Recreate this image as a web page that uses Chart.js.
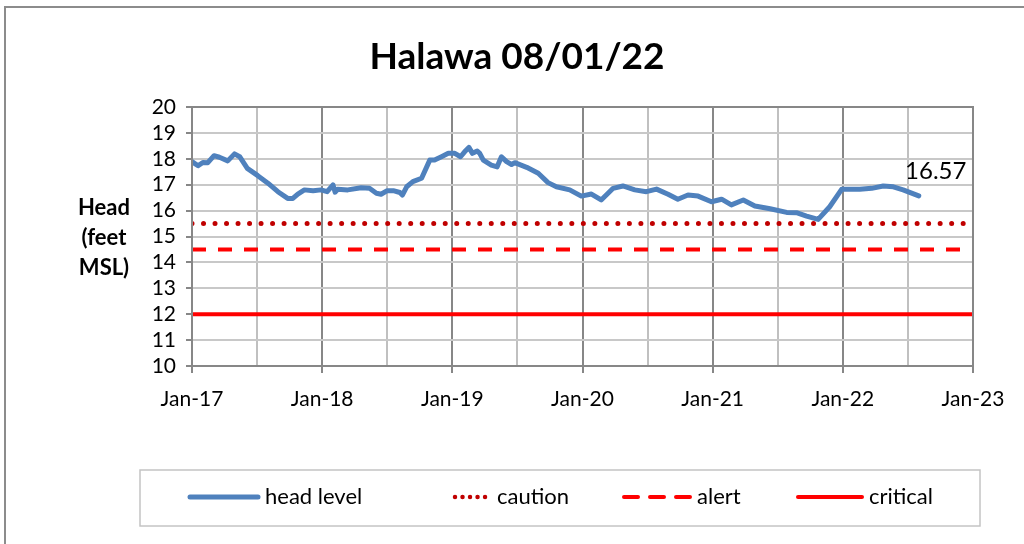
<!DOCTYPE html>
<html>
<head>
<meta charset="utf-8" />
<title>Halawa 08/01/22</title>
<style>
    body { margin: 0; background: #fff; }
    #wrap { position: relative; width: 1024px; height: 544px; }
</style>
<script src="https://cdn.jsdelivr.net/npm/chart.js"></script>
</head>
<body>
<div id="wrap"><canvas id="chart" width="1024" height="544"></canvas></div>
<script>
    // head level readings (date, feet MSL)
    const dates = [
        '2017-01-01', '2017-01-18', '2017-02-01', '2017-02-15', '2017-03-02', '2017-03-17', '2017-04-10',
        '2017-04-29', '2017-05-13', '2017-06-04', '2017-07-03', '2017-08-01', '2017-08-29', '2017-09-26',
        '2017-10-10', '2017-10-24', '2017-11-12', '2017-12-06', '2017-12-28', '2018-01-15', '2018-02-01',
        '2018-02-07', '2018-02-14', '2018-03-12', '2018-04-19', '2018-05-12', '2018-06-01', '2018-06-14',
        '2018-07-01', '2018-07-18', '2018-08-06', '2018-08-13', '2018-08-25', '2018-09-12', '2018-10-06',
        '2018-10-29', '2018-11-12', '2018-12-01', '2018-12-20', '2019-01-08', '2019-01-24', '2019-02-05',
        '2019-02-17', '2019-02-27', '2019-03-10', '2019-03-17', '2019-03-27', '2019-04-19', '2019-05-05',
        '2019-05-17', '2019-06-01', '2019-06-15', '2019-06-24', '2019-07-27', '2019-08-29', '2019-09-26',
        '2019-10-19', '2019-11-26', '2019-12-28', '2020-01-26', '2020-02-23', '2020-03-26', '2020-04-23',
        '2020-05-26', '2020-06-28', '2020-07-26', '2020-08-28', '2020-09-25', '2020-10-23', '2020-11-21',
        '2020-12-28', '2021-01-26', '2021-02-23', '2021-03-26', '2021-04-28', '2021-06-10', '2021-07-26',
        '2021-08-23', '2021-09-21', '2021-10-23', '2021-11-25', '2021-12-28', '2022-02-18', '2022-03-21',
        '2022-04-23', '2022-05-21', '2022-06-18', '2022-08-01'
    ];
    const headLevel = [
        17.89, 17.73, 17.86, 17.85, 18.12, 18.06, 17.92,
        18.19, 18.08, 17.63, 17.35, 17.06, 16.73, 16.47,
        16.47, 16.64, 16.80, 16.77, 16.80, 16.73, 16.99,
        16.71, 16.82, 16.80, 16.88, 16.86, 16.67, 16.63,
        16.77, 16.77, 16.70, 16.60, 16.92, 17.12, 17.25,
        17.95, 17.95, 18.08, 18.21, 18.21, 18.08, 18.27,
        18.44, 18.21, 18.30, 18.21, 17.95, 17.76, 17.69,
        18.08, 17.89, 17.78, 17.85, 17.67, 17.44, 17.08,
        16.92, 16.80, 16.56, 16.64, 16.41, 16.86, 16.95,
        16.80, 16.73, 16.83, 16.63, 16.44, 16.60, 16.56,
        16.34, 16.44, 16.22, 16.41, 16.18, 16.07, 15.93,
        15.92, 15.79, 15.66, 16.15, 16.82, 16.82, 16.86,
        16.95, 16.92, 16.80, 16.57
    ];

    // threshold levels
    const cautionLevel = 15.5;
    const alertLevel = 14.5;
    const criticalLevel = 12;

    const xStart = 2017, xEnd = 2023;
    const yMin = 10, yMax = 20;
    const lastLabel = '16.57';

    const legendItems = [
        { text: 'head level', color: '#4F81BD', width: 5, dash: [], x1: 190, x2: 258 },
        { text: 'caution', color: '#C00000', width: 4.5, dash: [0.01, 7.5], x1: 455, x2: 490 },
        { text: 'alert', color: '#FF0000', width: 4, dash: [14, 12], x1: 624, x2: 690 },
        { text: 'critical', color: '#FF0000', width: 4, dash: [], x1: 798, x2: 862 }
    ];

    function toYear(s) {
        const [y, m, d] = s.split('-').map(Number);
        return y + (m - 1) / 12 + (d - 1) / 365;
    }

    const headPts = dates.map((d, i) => ({ x: toYear(d), y: headLevel[i] }));
    const flat = v => [{ x: xStart, y: v }, { x: xEnd, y: v }];

    const FONT = 'Lato, "Open Sans", sans-serif';

    const extras = {
        id: 'extras',
        afterDraw(chart) {
            const ctx = chart.ctx;
            const a = chart.chartArea;
            ctx.save();
            // outer frame
            ctx.strokeStyle = '#8c8c8c';
            ctx.lineWidth = 2;
            ctx.beginPath();
            ctx.moveTo(5, 544); ctx.lineTo(5, 7); ctx.lineTo(1024, 7);
            ctx.stroke();
            // plot frame
            ctx.strokeStyle = '#878787';
            ctx.lineWidth = 2;
            ctx.strokeRect(a.left, a.top, a.right - a.left, a.bottom - a.top);

            // title
            ctx.fillStyle = '#000';
            ctx.textAlign = 'center';
            ctx.textBaseline = 'middle';
            ctx.font = 'bold 37px ' + FONT;
            ctx.fillText('Halawa 08/01/22', 517, 57);

            // y axis title
            ctx.font = 'bold 22px ' + FONT;
            ctx.fillText('Head', 104, 208);
            ctx.fillText('(feet', 104, 238);
            ctx.fillText('MSL)', 104, 268);

            // last value label
            const xs = chart.scales.x, ys = chart.scales.y;
            const last = headPts[headPts.length - 1];
            ctx.font = '24px ' + FONT;
            ctx.fillText(lastLabel, xs.getPixelForValue(last.x) + 17, ys.getPixelForValue(last.y) - 25);

            // legend
            ctx.strokeStyle = '#c4c4c4';
            ctx.lineWidth = 1.5;
            ctx.strokeRect(140, 470, 840, 56);
            ctx.textAlign = 'left';
            ctx.font = '22px ' + FONT;
            legendItems.forEach(it => {
                ctx.beginPath();
                ctx.strokeStyle = it.color;
                ctx.lineWidth = it.width;
                ctx.lineCap = 'round';
                ctx.setLineDash(it.dash);
                ctx.moveTo(it.x1, 497);
                ctx.lineTo(it.x2, 497);
                ctx.stroke();
                ctx.setLineDash([]);
                ctx.fillStyle = '#000';
                ctx.fillText(it.text, it.x2 + 7, 497);
            });
            ctx.restore();
        }
    };

    new Chart(document.getElementById('chart'), {
        type: 'line',
        data: {
            datasets: [
                { label: 'critical', data: flat(criticalLevel), borderColor: '#FF0000', borderWidth: 4 },
                { label: 'alert', data: flat(alertLevel), borderColor: '#FF0000', borderWidth: 4, borderDash: [14, 12] },
                { label: 'caution', data: flat(cautionLevel), borderColor: '#C00000', borderWidth: 5, borderDash: [0.01, 11.5], borderCapStyle: 'round' },
                { label: 'head level', data: headPts, borderColor: '#4F81BD', borderWidth: 5, borderJoinStyle: 'round', borderCapStyle: 'round' }
            ]
        },
        options: {
            responsive: false,
            animation: false,
            events: [],
            elements: { point: { radius: 0 }, line: { tension: 0 } },
            layout: { padding: { left: 0, top: 107, right: 51, bottom: 0 } },
            plugins: { legend: { display: false }, title: { display: false }, tooltip: { enabled: false } },
            scales: {
                x: {
                    type: 'linear',
                    min: xStart,
                    max: xEnd,
                    afterFit: s => { s.height = 544 - 366; },
                    border: { display: false },
                    grid: {
                        color: c => Number.isInteger(c.tick.value) ? '#878787' : '#c0c0c0',
                        tickColor: c => Number.isInteger(c.tick.value) ? '#878787' : 'rgba(0,0,0,0)',
                        tickLength: 7,
                        lineWidth: 2
                    },
                    ticks: {
                        stepSize: 0.5,
                        autoSkip: false,
                        maxRotation: 0,
                        padding: 14,
                        color: '#000',
                        font: { family: FONT, size: 21 },
                        callback: v => Number.isInteger(v) ? 'Jan-' + String(v).slice(2) : ''
                    }
                },
                y: {
                    min: yMin,
                    max: yMax,
                    afterFit: s => { s.width = 192; },
                    border: { display: false },
                    grid: { color: '#c8c8c8', tickColor: '#878787', tickLength: 6, lineWidth: 2 },
                    ticks: {
                        stepSize: 1,
                        autoSkip: false,
                        padding: 10,
                        color: '#000',
                        font: { family: FONT, size: 21 }
                    }
                }
            }
        },
        plugins: [extras]
    });
</script>
</body>
</html>
